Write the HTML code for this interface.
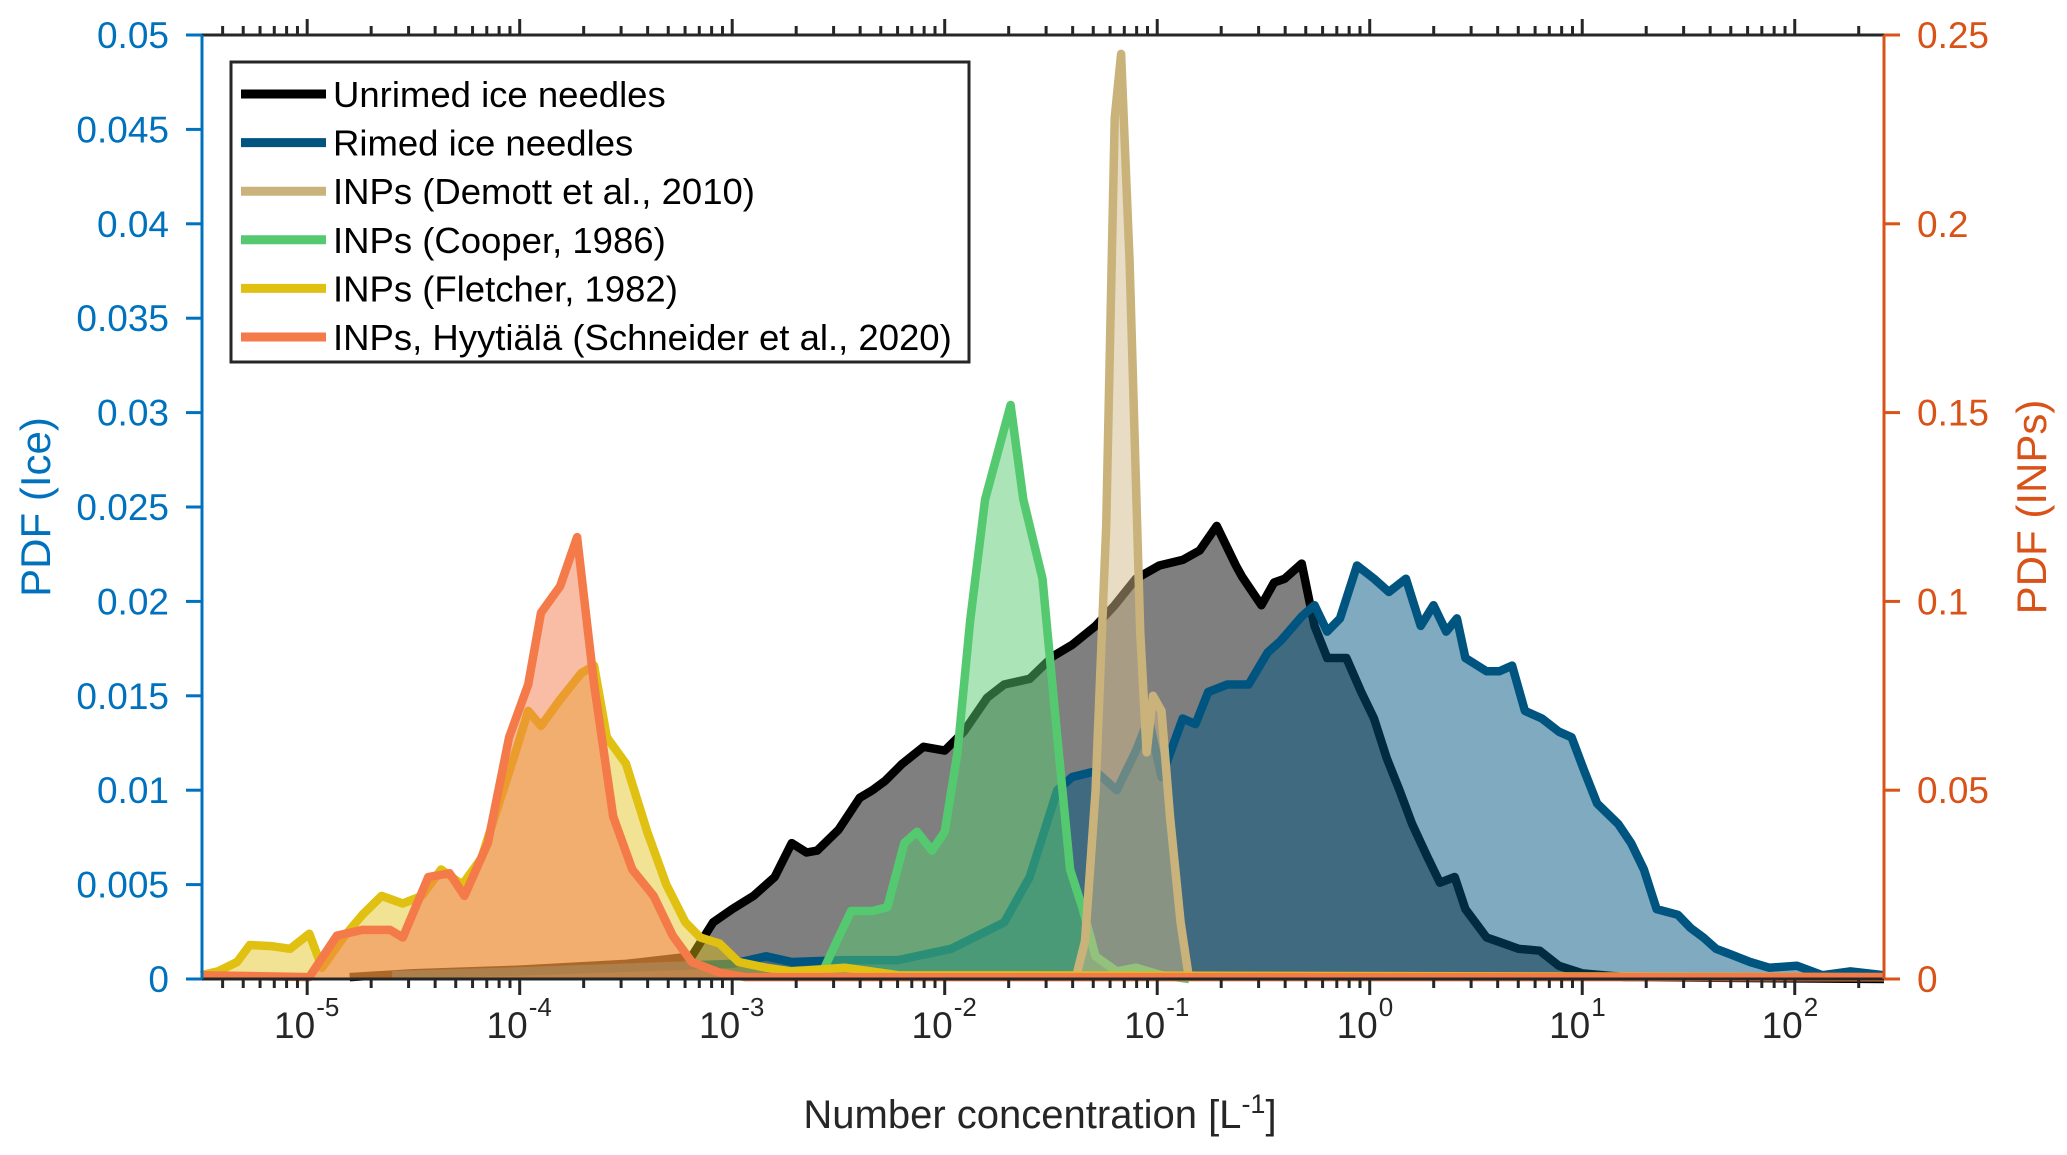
<!DOCTYPE html>
<html><head><meta charset="utf-8"><style>
html,body{margin:0;padding:0;background:#fff;}
svg{display:block;font-family:"Liberation Sans",Arial,sans-serif;}
</style></head><body>
<svg id="chart" width="2067" height="1155" viewBox="0 0 2067 1155" xmlns="http://www.w3.org/2000/svg">
<rect width="2067" height="1155" fill="#fff"/>
<g id="series"></g>
<g id="axes"></g>
<g id="legend"></g>
</svg>
<script>
// ---- data (x = log10 of number concentration [L^-1]) ----
const unrimedX = [-4.8,-4.5,-4.0,-3.5,-3.19,-3.09,-3.00,-2.90,-2.80,-2.72,-2.65,-2.60,-2.50,-2.40,-2.34,-2.28,-2.20,-2.10,-2.00,-1.91,-1.80,-1.72,-1.60,-1.49,-1.40,-1.29,-1.20,-1.10,-0.99,-0.88,-0.80,-0.72,-0.63,-0.60,-0.51,-0.45,-0.40,-0.32,-0.26,-0.20,-0.11,-0.04,0.02,0.08,0.14,0.20,0.27,0.33,0.40,0.45,0.55,0.60,0.70,0.80,0.89,1.00,1.20,2.42];
const unrimedY = [0.0001,0.0003,0.0005,0.0008,0.0012,0.003,0.0037,0.0044,0.0054,0.0072,0.0067,0.0068,0.0079,0.0096,0.0100,0.0105,0.0114,0.0123,0.0121,0.0131,0.0149,0.0156,0.0159,0.0171,0.0177,0.0187,0.0198,0.0212,0.0219,0.0222,0.0227,0.0240,0.0219,0.0213,0.0198,0.0210,0.0212,0.0220,0.0187,0.0170,0.0170,0.0152,0.0138,0.0117,0.0100,0.0082,0.0065,0.0051,0.0054,0.0037,0.0022,0.0020,0.0016,0.0015,0.0007,0.0003,0.0001,0.0];
const rimedX = [-4.6,-4.0,-3.5,-3.00,-2.84,-2.72,-2.47,-2.22,-1.97,-1.72,-1.60,-1.47,-1.40,-1.29,-1.19,-1.10,-1.04,-0.98,-0.88,-0.82,-0.76,-0.67,-0.57,-0.48,-0.42,-0.32,-0.26,-0.20,-0.14,-0.06,0.02,0.09,0.17,0.24,0.30,0.36,0.41,0.45,0.55,0.61,0.67,0.73,0.81,0.89,0.95,1.01,1.07,1.17,1.23,1.29,1.35,1.45,1.51,1.57,1.63,1.70,1.79,1.88,2.01,2.13,2.26,2.42];
const rimedY = [0.0002,0.0004,0.0006,0.0008,0.0012,0.0009,0.0010,0.0010,0.0016,0.0030,0.0054,0.0100,0.0107,0.0110,0.0100,0.0121,0.0138,0.0107,0.0138,0.0135,0.0152,0.0156,0.0156,0.0173,0.0179,0.0192,0.0198,0.0184,0.0191,0.0219,0.0212,0.0205,0.0212,0.0187,0.0198,0.0184,0.0191,0.0170,0.0163,0.0163,0.0166,0.0142,0.0138,0.0131,0.0128,0.0110,0.0093,0.0082,0.0072,0.0058,0.0037,0.0034,0.0027,0.0022,0.0016,0.0013,0.0009,0.0006,0.0007,0.0002,0.0004,0.0002];
const cooperX = [-2.59,-2.50,-2.44,-2.34,-2.27,-2.19,-2.13,-2.06,-2.00,-1.94,-1.88,-1.81,-1.69,-1.63,-1.54,-1.47,-1.41,-1.35,-1.29,-1.19,-1.10,-0.98,-0.85];
const cooperY = [0,0.011,0.018,0.018,0.019,0.036,0.039,0.034,0.039,0.060,0.095,0.127,0.152,0.127,0.106,0.064,0.029,0.0185,0.006,0.002,0.003,0.001,0];
const demottX = [-1.38,-1.34,-1.29,-1.24,-1.20,-1.17,-1.13,-1.08,-1.05,-1.02,-0.98,-0.94,-0.89,-0.85];
const demottY = [0.001,0.010,0.050,0.120,0.228,0.245,0.190,0.092,0.060,0.075,0.071,0.043,0.015,0];
const fletcherX = [-5.50,-5.42,-5.33,-5.27,-5.17,-5.08,-4.99,-4.93,-4.83,-4.74,-4.65,-4.55,-4.46,-4.37,-4.27,-4.18,-4.10,-4.02,-3.96,-3.90,-3.81,-3.71,-3.65,-3.59,-3.50,-3.40,-3.31,-3.22,-3.15,-3.06,-2.97,-2.84,-2.72,-2.47,-2.22,2.42];
const fletcherY = [0.001,0.002,0.0045,0.009,0.0087,0.008,0.012,0.003,0.011,0.017,0.022,0.020,0.022,0.029,0.025,0.032,0.046,0.060,0.071,0.067,0.074,0.081,0.083,0.064,0.057,0.039,0.025,0.015,0.011,0.0094,0.0045,0.003,0.002,0.003,0.001,0.0005];
const schneiderX = [-5.50,-4.99,-4.86,-4.74,-4.61,-4.55,-4.43,-4.33,-4.26,-4.15,-4.05,-3.96,-3.90,-3.81,-3.73,-3.65,-3.56,-3.47,-3.37,-3.28,-3.19,-3.06,-2.94,2.42];
const schneiderY = [0.001,0.0005,0.0115,0.013,0.013,0.011,0.027,0.028,0.022,0.036,0.064,0.078,0.097,0.104,0.117,0.078,0.043,0.029,0.022,0.0115,0.0045,0.0017,0.0005,0.0005];
const leftTicks = [0,0.005,0.01,0.015,0.02,0.025,0.03,0.035,0.04,0.045,0.05];
const leftTickLabels = ["0","0.005","0.01","0.015","0.02","0.025","0.03","0.035","0.04","0.045","0.05"];
const rightTicks = [0,0.05,0.1,0.15,0.2,0.25];
const rightTickLabels = ["0","0.05","0.1","0.15","0.2","0.25"];
const xDecades = [-5,-4,-3,-2,-1,0,1,2];
const legendLabels = ["Unrimed ice needles","Rimed ice needles","INPs (Demott et al., 2010)","INPs (Cooper, 1986)","INPs (Fletcher, 1982)","INPs, Hyytiälä (Schneider et al., 2020)"];

// ---- layout ----
const L=202, R=1884, T=35, B=979;
const X0=-5.495, X1=2.42;
const xs = v => L + (v - X0)/(X1 - X0)*(R - L);
const yl = v => B - v/0.05*(B - T);
const yr = v => B - v/0.25*(B - T);
const NS="http://www.w3.org/2000/svg";
function mk(tag, attrs, parent){const e=document.createElementNS(NS,tag);for(const k in attrs)e.setAttribute(k,attrs[k]);parent.appendChild(e);return e;}

const seriesG=document.getElementById('series');
function drawSeries(xArr,yArr,yf,color,fill,op,name){
  let pts=[];
  for(let i=0;i<xArr.length;i++){pts.push(xs(xArr[i]).toFixed(1)+','+yf(yArr[i]).toFixed(1));}
  const line='M'+pts.join('L');
  const area=line+'L'+xs(xArr[xArr.length-1]).toFixed(1)+','+B+'L'+xs(xArr[0]).toFixed(1)+','+B+'Z';
  const a=mk('path',{d:area,fill:fill,'fill-opacity':op,stroke:'none'},seriesG);
  
  
  const l=mk('path',{d:line,fill:'none',stroke:color,'stroke-width':8.5,'stroke-linejoin':'round'},seriesG);
  
  
}
drawSeries(unrimedX,unrimedY,yl,'#000','#000',0.5,'unrimed-ice-needles');
drawSeries(rimedX,rimedY,yl,'#005580','#005580',0.5,'rimed-ice-needles');
drawSeries(cooperX,cooperY,yr,'#55c970','#55c970',0.5,'inps-cooper');
drawSeries(demottX,demottY,yr,'#c9b37a','#d2bc8a',0.5,'inps-demott');
drawSeries(fletcherX,fletcherY,yr,'#e0c010','#e0c010',0.45,'inps-fletcher');
drawSeries(schneiderX,schneiderY,yr,'#f47a4a','#f47a4a',0.5,'inps-schneider');

const ax=document.getElementById('axes');
let e=mk('line',{x1:L,y1:B,x2:R,y2:B,stroke:'#262626','stroke-width':3},ax);
 
e=mk('line',{x1:L,y1:T,x2:R,y2:T,stroke:'#262626','stroke-width':3},ax);
 
for(let dec=-6;dec<=2;dec++){
  for(let m=1;m<=9;m++){
    const v=dec+Math.log10(m); if(v<X0||v>X1) continue;
    const x=xs(v), len=(m===1)?16:9;
    mk('line',{x1:x,y1:B,x2:x,y2:B+len,stroke:'#262626','stroke-width':3},ax);
    mk('line',{x1:x,y1:T,x2:x,y2:T-len,stroke:'#262626','stroke-width':3},ax);
  }
}
xDecades.forEach(dv=>{
  const t=mk('text',{x:xs(dv)+8,y:1038,'text-anchor':'end','font-size':37,fill:'#262626'},ax);
  t.textContent='10';
   
  const s=mk('text',{x:xs(dv)+9,y:1016,'font-size':26,fill:'#262626'},ax);
  s.textContent=String(dv);
   
});
let xt=mk('text',{x:1040,y:1128,'text-anchor':'middle','font-size':40,fill:'#262626'},ax);
 
xt.innerHTML='Number concentration [L<tspan dy="-15" font-size="27">-1</tspan><tspan dy="15">]</tspan>';
e=mk('line',{x1:L,y1:T,x2:L,y2:B,stroke:'#0072bd','stroke-width':3},ax);
 
leftTicks.forEach((v,i)=>{
  const y=yl(v);
  mk('line',{x1:L-16,y1:y,x2:L,y2:y,stroke:'#0072bd','stroke-width':3},ax);
  const t=mk('text',{x:L-33,y:y+13,'text-anchor':'end','font-size':37,fill:'#0072bd'},ax);
  t.textContent=leftTickLabels[i];
   
});
let yt=mk('text',{x:0,y:0,'text-anchor':'middle','font-size':42,fill:'#0072bd',transform:'translate(50,507) rotate(-90)'},ax);
yt.textContent='PDF (Ice)';
 
e=mk('line',{x1:R,y1:T,x2:R,y2:B,stroke:'#d95319','stroke-width':3},ax);
 
rightTicks.forEach((v,i)=>{
  const y=yr(v);
  mk('line',{x1:R,y1:y,x2:R+16,y2:y,stroke:'#d95319','stroke-width':3},ax);
  const t=mk('text',{x:R+33,y:y+13,'text-anchor':'start','font-size':37,fill:'#d95319'},ax);
  t.textContent=rightTickLabels[i];
   
});
let yt2=mk('text',{x:0,y:0,'text-anchor':'middle','font-size':42,fill:'#d95319',transform:'translate(2046,507) rotate(-90)'},ax);
yt2.textContent='PDF (INPs)';
 

const lg=document.getElementById('legend');
const lcol=['#000','#005580','#c9b37a','#55c970','#e0c010','#f47a4a'];
let box=mk('rect',{x:231,y:62,width:738,height:300,fill:'#fff',stroke:'#262626','stroke-width':3},lg);
 
legendLabels.forEach((lab,i)=>{
  const y=94+i*48.6;
  const s=mk('line',{x1:241,y1:y,x2:326,y2:y,stroke:lcol[i],'stroke-width':9},lg);
   
  const t=mk('text',{x:333,y:y+13,'font-size':36.5,fill:'#000'},lg);
  t.textContent=lab;
   
});
</script>
</body></html>
